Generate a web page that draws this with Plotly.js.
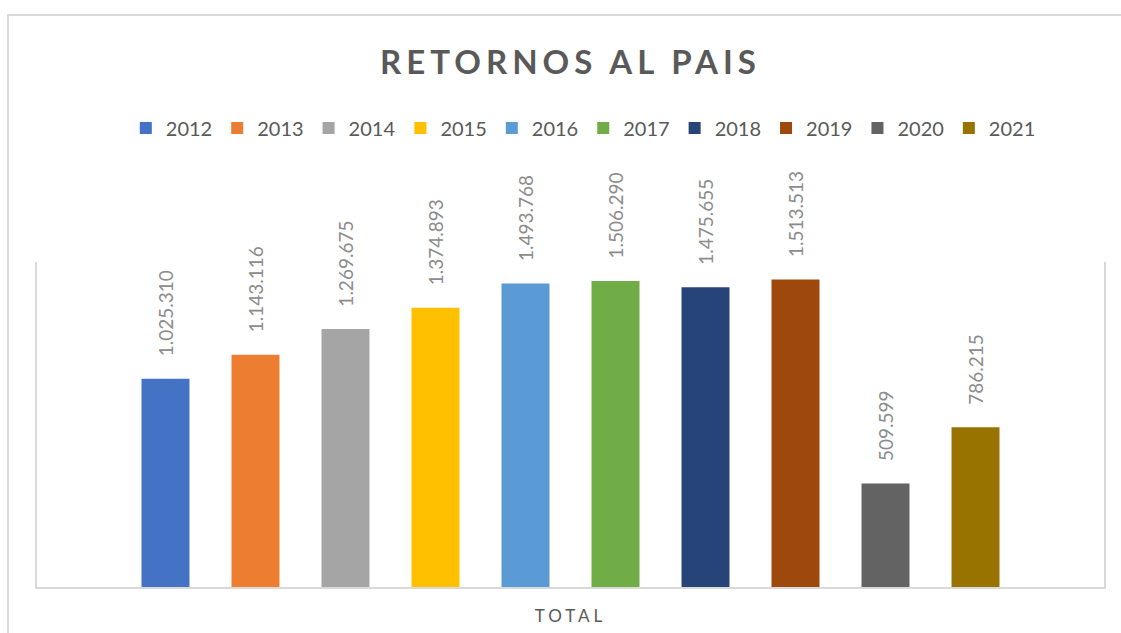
<!DOCTYPE html>
<html>
<head>
<meta charset="utf-8">
<script src="https://cdn.plot.ly/plotly-3.0.1.min.js"></script>
<style>
  html, body { margin: 0; padding: 0; background: #fff; overflow: hidden; }
  #chart { width: 1121px; height: 633px; }
  #frame { position: absolute; left: 7px; top: 14px; width: 1300px; height: 900px;
           border: 2px solid #d9d9d9; pointer-events: none; box-sizing: border-box; }
  .gtitle { letter-spacing: 5px; }
  .xtick text { letter-spacing: 4px; }
</style>
</head>
<body>
<div id="chart"></div>
<div id="frame"></div>
<script>
const category = ["TOTAL"];
const years = ["2012", "2013", "2014", "2015", "2016", "2017", "2018", "2019", "2020", "2021"];
const values = [1025310, 1143116, 1269675, 1374893, 1493768, 1506290, 1475655, 1513513, 509599, 786215];
const colors = ["#4472C4", "#ED7D31", "#A5A5A5", "#FFC000", "#5B9BD5", "#70AD47", "#264478", "#9E480E", "#636363", "#997300"];

const pad = "\u00a0\u00a0\u00a0\u00a0";
const traces = years.map((yr, i) => ({
  type: "bar",
  name: yr,
  x: category,
  y: [values[i]],
  marker: { color: colors[i] },
  texttemplate: pad + "%{y:,.0f}",
  textposition: "outside",
  textangle: -90,
  cliponaxis: false,
  constraintext: "none",
  textfont: { family: "Lato, sans-serif", size: 19, color: "#8c8c8c" },
  hoverinfo: "skip"
}));

const layout = {
  width: 1121,
  height: 633,
  margin: { l: 37, r: 17, t: 262, b: 46 },
  paper_bgcolor: "#ffffff",
  plot_bgcolor: "#ffffff",
  separators: ",.",
  barmode: "group",
  bargap: 0.1565,
  bargroupgap: 0.467,
  showlegend: true,
  title: {
    text: "RETORNOS AL PAIS",
    font: { family: "Lato, sans-serif", size: 33, color: "#595959", weight: "bold" },
    xref: "paper", x: 0.5, xanchor: "center",
    yref: "container", y: 1 - 62 / 633, yanchor: "middle"
  },
  legend: {
    orientation: "h",
    x: 0.512, xanchor: "center",
    y: 1.412, yanchor: "middle",
    font: { family: "Lato, sans-serif", size: 20, color: "#595959" },
    itemwidth: 30,
    traceorder: "normal"
  },
  xaxis: {
    type: "category",
    showline: true, linecolor: "#d9d9d9", linewidth: 2,
    showgrid: false, zeroline: false, ticks: "",
    ticklabelstandoff: 13,
    tickfont: { family: "Lato, sans-serif", size: 17, color: "#595959" },
    fixedrange: true
  },
  yaxis: {
    range: [0, 1600000],
    showline: true, mirror: true, linecolor: "#d9d9d9", linewidth: 2,
    showgrid: false, zeroline: false, showticklabels: false, ticks: "",
    fixedrange: true
  }
};

Plotly.newPlot("chart", traces, layout, { displayModeBar: false, staticPlot: true });
</script>
</body>
</html>
